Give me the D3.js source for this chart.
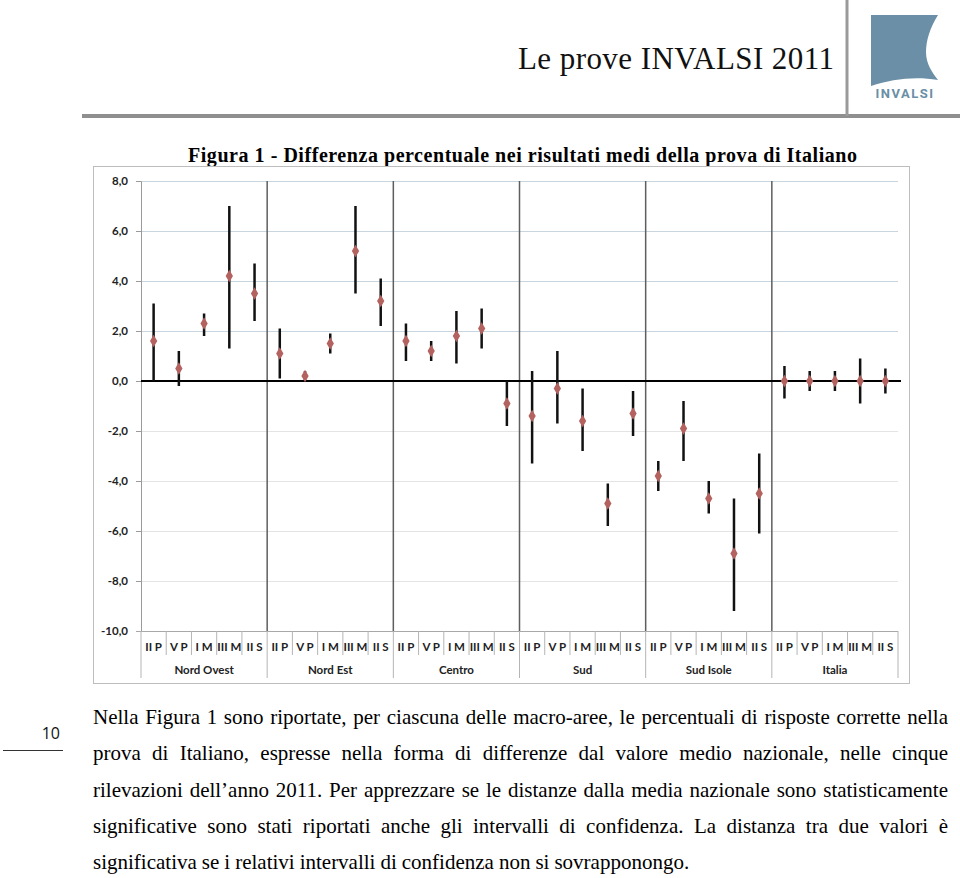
<!DOCTYPE html>
<html>
<head>
<meta charset="utf-8">
<script src="https://cdn.jsdelivr.net/npm/d3@7"></script>
<style>
  body { margin: 0; background: #fff; }
  svg { display: block; }
</style>
</head>
<body>
<div id="page"></div>
<script>
// data
var regions = ["Nord Ovest", "Nord Est", "Centro", "Sud", "Sud Isole", "Italia"];
var grades = ["II P", "V P", "I M", "III M", "II S"];
var means = [1.6, 0.5, 2.3, 4.2, 3.5,
             1.1, 0.2, 1.5, 5.2, 3.2,
             1.6, 1.2, 1.8, 2.1, -0.9,
             -1.4, -0.3, -1.6, -4.9, -1.3,
             -3.8, -1.9, -4.7, -6.9, -4.5,
             0.0, 0.0, 0.0, 0.0, 0.0];
var upper = [3.1, 1.2, 2.7, 7.0, 4.7,
             2.1, 0.4, 1.9, 7.0, 4.1,
             2.3, 1.6, 2.8, 2.9, 0.0,
             0.4, 1.2, -0.3, -4.1, -0.4,
             -3.2, -0.8, -4.0, -4.7, -2.9,
             0.6, 0.4, 0.4, 0.9, 0.5];
var lower = [0.0, -0.2, 1.8, 1.3, 2.4,
             0.1, 0.0, 1.1, 3.5, 2.2,
             0.8, 0.8, 0.7, 1.3, -1.8,
             -3.3, -1.7, -2.8, -5.8, -2.2,
             -4.4, -3.2, -5.3, -9.2, -6.1,
             -0.7, -0.4, -0.4, -0.9, -0.5];
var yTicks = [8, 6, 4, 2, 0, -2, -4, -6, -8, -10];

var bodyLines = [
  "Nella Figura 1 sono riportate, per ciascuna delle macro-aree, le percentuali di risposte corrette nella",
  "prova di Italiano, espresse nella forma di differenze dal valore medio nazionale, nelle cinque",
  "rilevazioni dell\u2019anno 2011. Per apprezzare se le distanze dalla media nazionale sono statisticamente",
  "significative sono stati riportati anche gli intervalli di confidenza. La distanza tra due valori \u00e8",
  "significativa se i relativi intervalli di confidenza non si sovrapponongo."
];

var width = 960, height = 878;
var svg = d3.select("#page").append("svg")
    .attr("width", width)
    .attr("height", height);

// ---- page header
svg.append("line")
    .attr("x1", 82).attr("x2", 960).attr("y1", 116).attr("y2", 116)
    .attr("stroke", "#8f8f8f").attr("stroke-width", 4);
svg.append("line")
    .attr("x1", 847).attr("x2", 847).attr("y1", 0).attr("y2", 116)
    .attr("stroke", "#9a9a9a").attr("stroke-width", 3);
svg.append("text")
    .attr("x", 518).attr("y", 69)
    .attr("font-family", "Liberation Serif")
    .attr("font-size", 31)
    .attr("textLength", 316)
    .attr("fill", "#111")
    .text("Le prove INVALSI 2011");

// logo
svg.append("path")
    .attr("d", "M871,15 L938,15 C930,28 926,40 926,52 C926,64 932,72 938,80 C915,76 892,79 871,86 Z")
    .attr("fill", "#6a8fa6");
svg.append("text")
    .attr("x", 905).attr("y", 98)
    .attr("text-anchor", "middle")
    .attr("font-family", "Roboto")
    .attr("font-weight", "bold")
    .attr("font-size", 13)
    .attr("letter-spacing", 1.5)
    .attr("fill", "#6a8fa6")
    .text("INVALSI");

// ---- figure title
svg.append("text")
    .attr("x", 188).attr("y", 162)
    .attr("font-family", "Liberation Serif")
    .attr("font-weight", "bold")
    .attr("font-size", 20)
    .attr("textLength", 669)
    .attr("fill", "#000")
    .text("Figura 1 - Differenza percentuale nei risultati medi della prova di Italiano");

// ---- chart
svg.append("rect")
    .attr("x", 93.5).attr("y", 166.5)
    .attr("width", 816).attr("height", 517)
    .attr("fill", "#fff")
    .attr("stroke", "#bdbdbd");

var plotL = 141, plotR = 898, plotT = 181, plotB = 631;

var x = d3.scaleBand()
    .domain(d3.range(means.length))
    .range([plotL, plotR]);
var y = d3.scaleLinear()
    .domain([-10, 8])
    .range([plotB, plotT]);

var it = d3.formatLocale({decimal: ",", thousands: ".", grouping: [3], currency: ["", "\u20ac"], minus: "-"});
var fmt = it.format(".1f");

// gridlines
svg.append("g").selectAll("line")
    .data(yTicks.filter(function(d) { return d !== 0 && d !== -10; }))
    .enter().append("line")
    .attr("x1", plotL).attr("x2", plotR)
    .attr("y1", function(d) { return y(d) + 0.5; })
    .attr("y2", function(d) { return y(d) + 0.5; })
    .attr("stroke", function(d) { return d > 0 ? "#c9d5de" : "#e4e4e4"; })
    .attr("stroke-width", 1.2);

// y axis
var yAxis = svg.append("g")
    .attr("transform", "translate(" + plotL + ",0)")
    .call(d3.axisLeft(y).tickValues(yTicks).tickFormat(fmt).tickSize(5).tickPadding(8));
yAxis.select(".domain").attr("stroke", "#9a9a9a");
yAxis.selectAll(".tick line").attr("stroke", "#9a9a9a");
yAxis.selectAll("text")
    .attr("font-family", "Lato")
    .attr("font-weight", "bold")
    .attr("font-size", 11.5)
    .attr("fill", "#222");

// bottom axis line
svg.append("line")
    .attr("x1", plotL - 5).attr("x2", plotR)
    .attr("y1", plotB + 0.5).attr("y2", plotB + 0.5)
    .attr("stroke", "#a8a8a8");

// group separators inside the plot
var groupEdges = d3.range(1, regions.length).map(function(g) { return x(g * grades.length); });
svg.append("g").selectAll("line")
    .data(groupEdges)
    .enter().append("line")
    .attr("x1", function(d) { return d; }).attr("x2", function(d) { return d; })
    .attr("y1", plotT).attr("y2", plotB)
    .attr("stroke", "#5e5e5e").attr("stroke-width", 1.5);

// category dividers below the plot
svg.append("g").selectAll("line")
    .data(d3.range(means.length + 1))
    .enter().append("line")
    .attr("x1", function(d) { return d < means.length ? x(d) : plotR; })
    .attr("x2", function(d) { return d < means.length ? x(d) : plotR; })
    .attr("y1", plotB)
    .attr("y2", function(d) { return d % grades.length === 0 ? 678 : 655; })
    .attr("stroke", "#b5b5b5");

// zero line
svg.append("line")
    .attr("x1", plotL).attr("x2", plotR + 3)
    .attr("y1", y(0)).attr("y2", y(0))
    .attr("stroke", "#000").attr("stroke-width", 2);

// category labels
svg.append("g").selectAll("text")
    .data(means)
    .enter().append("text")
    .attr("x", function(d, i) { return x(i) + x.bandwidth() / 2; })
    .attr("y", 651)
    .attr("text-anchor", "middle")
    .attr("font-family", "Lato")
    .attr("font-weight", "bold")
    .attr("font-size", 11.5)
    .attr("fill", "#222")
    .text(function(d, i) { return grades[i % grades.length]; });

// region labels
svg.append("g").selectAll("text")
    .data(regions)
    .enter().append("text")
    .attr("x", function(d, i) { return x(i * grades.length) + x.bandwidth() * grades.length / 2; })
    .attr("y", 674)
    .attr("text-anchor", "middle")
    .attr("font-family", "Lato")
    .attr("font-weight", "bold")
    .attr("font-size", 11.5)
    .attr("fill", "#222")
    .text(function(d) { return d; });

// confidence intervals
svg.append("g").selectAll("line")
    .data(means)
    .enter().append("line")
    .attr("x1", function(d, i) { return x(i) + x.bandwidth() / 2; })
    .attr("x2", function(d, i) { return x(i) + x.bandwidth() / 2; })
    .attr("y1", function(d, i) { return y(upper[i]); })
    .attr("y2", function(d, i) { return y(lower[i]); })
    .attr("stroke", "#111")
    .attr("stroke-width", 2.5);

// mean markers
svg.append("g").selectAll("path")
    .data(means)
    .enter().append("path")
    .attr("d", d3.symbol().type(d3.symbolDiamond).size(46))
    .attr("transform", function(d, i) {
        return "translate(" + (x(i) + x.bandwidth() / 2) + "," + y(d) + ")";
    })
    .attr("fill", "#b3625f");

// ---- page number
svg.append("text")
    .attr("x", 60).attr("y", 739)
    .attr("text-anchor", "end")
    .attr("font-family", "Open Sans")
    .attr("font-size", 16)
    .attr("fill", "#111")
    .text("10");
svg.append("line")
    .attr("x1", 3).attr("x2", 63).attr("y1", 750.5).attr("y2", 750.5)
    .attr("stroke", "#333");

// ---- body text, justified by hand
var textLeft = 93, textRight = 948;
var body = svg.append("g")
    .attr("font-family", "Liberation Serif")
    .attr("font-size", 21)
    .attr("fill", "#000");

bodyLines.forEach(function(line, li) {
    var words = line.split(" ");
    var baseline = 724 + li * 36.3;
    var widths = words.map(function(w) {
        var t = body.append("text").text(w);
        var wl = t.node().getComputedTextLength();
        t.remove();
        return wl;
    });
    var last = li === bodyLines.length - 1;
    var total = d3.sum(widths);
    var gap = last ? 5 : (textRight - textLeft - total) / (words.length - 1);
    var cx = textLeft;
    words.forEach(function(w, wi) {
        body.append("text")
            .attr("x", cx)
            .attr("y", baseline)
            .text(w);
        cx += widths[wi] + gap;
    });
});
</script>
</body>
</html>
